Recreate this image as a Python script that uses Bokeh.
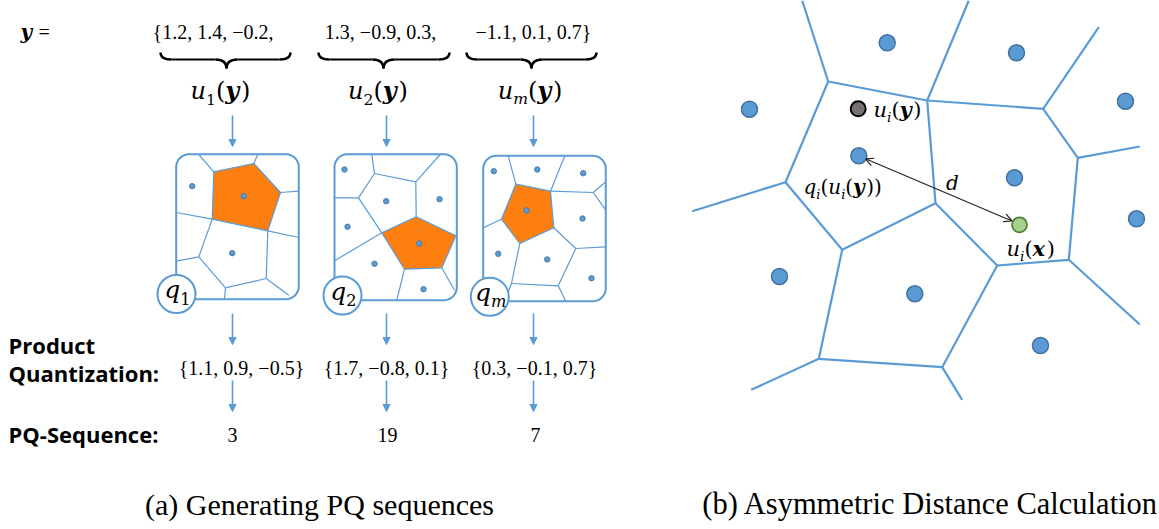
import numpy as np
from bokeh.plotting import figure
from bokeh.models import Range1d, Arrow, NormalHead, OpenHead
from bokeh.core.properties import value
from bokeh.embed import file_html
from bokeh.resources import INLINE

# ---------------- text content ----------------
y_chunks = ["{1.2, 1.4, \u22120.2,", "1.3, \u22120.9, 0.3,", "\u22121.1, 0.1, 0.7}"]
sub_index = [("1", "rm"), ("2", "rm"), ("m", "it")]
pq_values = ["{1.1, 0.9, \u22120.5}", "{1.7, \u22120.8, 0.1}", "{0.3, \u22120.1, 0.7}"]
pq_codes = ["3", "19", "7"]
row_labels = ["Product", "Quantization:", "PQ-Sequence:"]
captions = ["(a) Generating PQ sequences", "(b) Asymmetric Distance Calculation"]

# ---------------- left panel geometry (page pixels) ----------------
col_x = [232, 386, 533]
chunk_x = [212.5, 380, 533]
brace_l = [160, 318, 466]
brace_r = [290, 449, 596]
brace_tip = [226, 383, 531]
ulabel_x = [220, 377.5, 529.5]
box_x0 = [175.7, 334.0, 482.7]
box_x1 = [298.3, 456.3, 605.3]
box_y0 = [153.7, 153.7, 155.3]
box_y1 = [298.7, 299.7, 300.7]
q_cx = [176.0, 342.0, 489.3]
q_cy = [293.5, 295.0, 296.3]
pq_x = [241, 386, 534]
code_x = [232, 387, 535]

cell_segments = [
    [((198.3, 154), (213.3, 171.3)), ((257.3, 154), (253.3, 163)), ((280, 192), (298.3, 190.7)),
     ((175.7, 212), (211.7, 218.7)), ((267.3, 230.3), (298.3, 237)), ((211.7, 218.7), (198.3, 256.3)),
     ((198.3, 256.3), (175.7, 260.7)), ((198.3, 256.3), (225, 287.3)), ((267.3, 230.3), (265.7, 278)),
     ((265.7, 278), (225, 287.3)), ((225, 287.3), (224, 298.7)), ((265.7, 278), (288.3, 294.7))],
    [((371.3, 154), (374, 173)), ((374, 173), (415.3, 181.3)), ((439.7, 154), (415.3, 181.3)),
     ((415.3, 181.3), (415.7, 216.3)), ((374, 173), (358, 197.3)), ((334, 197.3), (358, 197.3)),
     ((358, 197.3), (381.3, 232.3)), ((381.3, 232.3), (334, 260.3)), ((404, 268.7), (396.3, 299.7)),
     ((441.3, 267.3), (454, 289.7))],
    [((507.7, 155.3), (515.3, 183.7)), ((564.3, 155.3), (550, 190.7)), ((550, 190.7), (592.7, 192)),
     ((592.7, 192), (605.3, 181.3)), ((592.7, 192), (605.3, 209.7)), ((501, 218.7), (482.7, 227.3)),
     ((553.3, 227.3), (575.3, 248)), ((575.3, 248), (605.3, 246.3)), ((519.3, 243), (511, 283)),
     ((511, 283), (557.7, 285.3)), ((575.3, 248), (557.7, 285.3)), ((557.7, 285.3), (565.3, 300.7)),
     ((511, 283), (504, 300.7))],
]
cell_pentagons = [
    [(213.3, 171.3), (253.3, 163), (280, 192), (267.3, 230.3), (211.7, 218.7)],
    [(381.3, 232.3), (415.7, 216.3), (455.3, 235.3), (441.3, 267.3), (404, 268.7)],
    [(515.3, 183.7), (550, 190.7), (553.3, 227.3), (519.3, 243), (501, 218.7)],
]
cell_dots = [
    [(191.7, 185.7), (243.3, 195.7), (231.7, 252.7)],
    [(344, 169), (385.7, 200.7), (439, 198.7), (347, 226.3), (418.7, 243), (374, 263.3), (423, 288.7)],
    [(493.3, 170.7), (536.7, 169), (582.7, 172.7), (526, 210), (582, 218), (497.7, 253.3), (546.7, 259), (591, 277.7)],
]

# ---------------- right panel geometry ----------------
right_segments = [
    ((801.7, 0), (827.7, 81)), ((968.3, 0), (926.7, 100)), ((827.7, 81), (926.7, 100)),
    ((926.7, 100), (1042.7, 108.3)), ((1098.3, 26.7), (1042.7, 108.3)), ((1042.7, 108.3), (1077.3, 157.3)),
    ((1077.3, 157.3), (1139.3, 146)), ((1077.3, 157.3), (1068.3, 259.3)), ((926.7, 100), (935, 202.7)),
    ((827.7, 81), (785, 181.7)), ((785, 181.7), (691.7, 210.7)), ((785, 181.7), (841.7, 249.3)),
    ((841.7, 249.3), (935, 202.7)), ((935, 202.7), (996.7, 265)), ((996.7, 265), (1068.3, 259.3)),
    ((1068.3, 259.3), (1139.3, 324)), ((996.7, 265), (941.7, 366.7)), ((841.7, 249.3), (818.3, 358.3)),
    ((818.3, 358.3), (941.7, 366.7)), ((818.3, 358.3), (750.7, 389.3)), ((941.7, 366.7), (961.7, 399.3)),
]
right_dot_x = [886.7, 1016, 749, 1125, 858.3, 1014, 1136, 779, 914.3, 1040]
right_dot_y = [42.3, 52.3, 108.7, 100.7, 155.3, 177.3, 218.3, 276, 293.3, 345]
query_pt = (857.7, 108.3)
x_pt = (1019, 224.3)

BLUE = "#5B9BD5"
DOT_EDGE = "#41719C"
ORANGE = "#FD7F0F"
MATHF = "DejaVu Serif"
NUMF = "Liberation Serif"
SHIFT = 0.33  # rendered baseline sits this many em below the anchor

p = figure(width=1159, height=529, x_range=Range1d(0, 1159), y_range=Range1d(529, 0),
           output_backend="svg", toolbar_location=None, x_axis_location=None, y_axis_location=None,
           min_border=0, outline_line_color=None, background_fill_color="white",
           border_fill_color="white")
p.xgrid.visible = False
p.ygrid.visible = False

W = {
    "rm": {"(": .39, ")": .39, "1": .636, "2": .636, "=": .838, " ": .318},
    "it": {"u": .644, "q": .64, "d": .64, "y": .592, "x": .592, "i": .32, "m": .948},
    "bi": {"y": .654, "x": .676},
}
STYLE = {"rm": "normal", "it": "italic", "bi": "bold italic"}


def rich(x, y, parts, size, align="center", spacing=1.0):
    items = []
    for txt, st in parts:
        sub = st.endswith("_sub")
        base = st.replace("_sub", "")
        fs = size * 0.65 if sub else size
        w = sum(W[base].get(c, .6) for c in txt) * fs * spacing
        items.append((txt, base, fs, w, sub))
    total = sum(i[3] for i in items)
    cx = x - total / 2 if align == "center" else x
    for txt, base, fs, w, sub in items:
        yy = y + (0.24 * size if sub else 0) - SHIFT * fs
        p.text(x=[cx], y=[yy], text=[txt], text_font=value(MATHF),
               text_font_style=STYLE[base], text_font_size=f"{fs:.1f}px", text_align="left",
               text_baseline="alphabetic", text_color="black")
        cx += w


def plain(x, y, s, size, font, style="normal", align="center"):
    p.text(x=[x], y=[y - SHIFT * size], text=[s], text_font=value(font), text_font_style=style,
           text_font_size=f"{size}px", text_align=align, text_baseline="alphabetic", text_color="black")


def down_arrow(x, y0, y1):
    p.add_layout(Arrow(end=NormalHead(size=7, fill_color=BLUE, line_color=BLUE, line_width=1),
                       x_start=x, y_start=y0, x_end=x, y_end=y1, line_color=BLUE, line_width=1.6))


def rounded(x0, x1, y0, y1, r):
    xs, ys = [], []
    for cx, cy, a0, a1 in [(x0 + r, y0 + r, np.pi, np.pi / 2), (x1 - r, y0 + r, np.pi / 2, 0),
                           (x1 - r, y1 - r, 0, -np.pi / 2), (x0 + r, y1 - r, -np.pi / 2, -np.pi)]:
        t = np.linspace(a0, a1, 12)
        xs.extend(cx + r * np.cos(t))
        ys.extend(cy - r * np.sin(t))
    xs.append(xs[0]); ys.append(ys[0])
    return xs, ys

# ---------------- left panel ----------------
rich(20, 38, [("y", "bi")], 20, align="left")
plain(38, 38, "=", 20, NUMF, align="left")
for cx, s in zip(chunk_x, y_chunks):
    plain(cx, 38.5, s, 20, NUMF)

top, mid, tip, k = 52, 59, 68, 11
for l, r, t in zip(brace_l, brace_r, brace_tip):
    p.quadratic(x0=[l, t - k, t, r - k], y0=[top, mid, tip, mid], x1=[l + k, t, t + k, r],
                y1=[mid, tip, mid, top], cx=[l, t, t, r], cy=[mid, mid, mid, mid],
                line_color="black", line_width=2.4)
    p.segment(x0=[l + k, t + k], y0=[mid, mid], x1=[t - k, r - k], y1=[mid, mid],
              line_color="black", line_width=2.2)

for ux, (si, sst) in zip(ulabel_x, sub_index):
    rich(ux, 98, [("u", "it"), (si, sst + "_sub"), ("(", "rm"), ("y", "bi"), (")", "rm")], 24)

for cx in col_x:
    down_arrow(cx, 115, 146)

for i in range(3):
    bx, by = rounded(box_x0[i], box_x1[i], box_y0[i], box_y1[i], 13)
    p.patch(bx, by, fill_color="white", line_color=None)
    pent = cell_pentagons[i]
    p.patch([v[0] for v in pent], [v[1] for v in pent], fill_color=ORANGE, line_color=BLUE, line_width=1.2)
    segs = cell_segments[i]
    p.segment(x0=[s[0][0] for s in segs], y0=[s[0][1] for s in segs],
              x1=[s[1][0] for s in segs], y1=[s[1][1] for s in segs], line_color=BLUE, line_width=1.2)
    dts = cell_dots[i]
    p.scatter([d[0] for d in dts], [d[1] for d in dts], size=5.5, fill_color=BLUE,
              line_color=DOT_EDGE, line_width=0.8)
    p.line(bx, by, line_color=BLUE, line_width=2)
    p.circle(x=[q_cx[i]], y=[q_cy[i]], radius=19, fill_color="white", line_color=BLUE, line_width=2)
    si, sst = sub_index[i]
    rich(q_cx[i] + 1, q_cy[i] + 4, [("q", "it"), (si, sst + "_sub")], 25)

for cx in col_x:
    down_arrow(cx, 313, 344)
    down_arrow(cx, 380, 411)

for cx, s in zip(pq_x, pq_values):
    plain(cx, 374.5, s, 20, NUMF)
for cx, s in zip(code_x, pq_codes):
    plain(cx, 441, s, 20, NUMF)

for yb, s in zip([352, 380, 441], row_labels):
    plain(8, yb, s, 22, "Open Sans", style="bold", align="left")

# ---------------- right panel ----------------
p.segment(x0=[s[0][0] for s in right_segments], y0=[s[0][1] for s in right_segments],
          x1=[s[1][0] for s in right_segments], y1=[s[1][1] for s in right_segments],
          line_color=BLUE, line_width=2.2)
p.scatter(right_dot_x, right_dot_y, size=16, fill_color=BLUE, line_color=DOT_EDGE, line_width=1.5)
p.scatter([query_pt[0]], [query_pt[1]], size=15, fill_color="#767171", line_color="black", line_width=2)
p.scatter([x_pt[0]], [x_pt[1]], size=15, fill_color="#A9D18E", line_color="#548235", line_width=1.8)
p.add_layout(Arrow(start=OpenHead(size=8, line_color="#222222", line_width=1.2),
                   end=OpenHead(size=8, line_color="#222222", line_width=1.2),
                   x_start=865, y_start=158.3, x_end=1011.5, y_end=220.5,
                   line_color="#222222", line_width=1.2))

rich(873, 116, [("u", "it"), ("i", "it_sub"), ("(", "rm"), ("y", "bi"), (")", "rm")], 21, align="left")
rich(803, 193, [("q", "it"), ("i", "it_sub"), ("(", "rm"), ("u", "it"), ("i", "it_sub"), ("(", "rm"),
                ("y", "bi"), (")", "rm"), (")", "rm")], 20, align="left")
rich(952, 189, [("d", "it")], 20)
rich(1006, 255, [("u", "it"), ("i", "it_sub"), ("(", "rm"), ("x", "bi"), (")", "rm")], 21, align="left")

# ---------------- captions ----------------
plain(319, 514, captions[0], 30, NUMF)
plain(930, 514, captions[1], 30.5, NUMF)

open("out.html", "w").write(file_html(p, INLINE))
